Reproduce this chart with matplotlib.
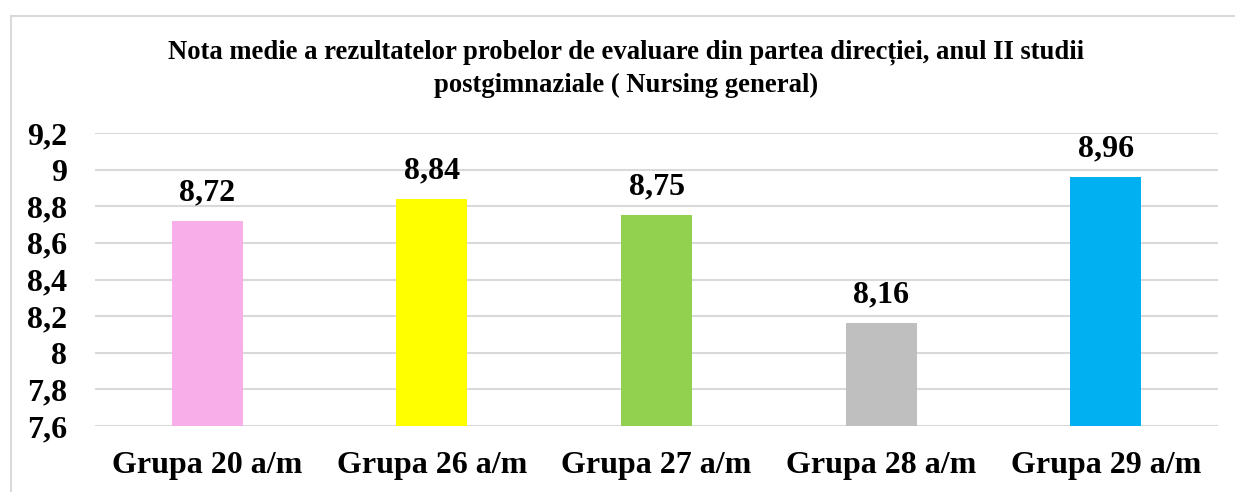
import matplotlib
matplotlib.use("Agg")
import matplotlib.pyplot as plt
from matplotlib.patches import Rectangle

grupe = ["Grupa 20 a/m", "Grupa 26 a/m", "Grupa 27 a/m", "Grupa 28 a/m", "Grupa 29 a/m"]
note = [8.72, 8.84, 8.75, 8.16, 8.96]
culori = ["#F8AEE8", "#FFFF00", "#92D050", "#BFBFBF", "#00B0F0"]
y_ticks = [7.6, 7.8, 8.0, 8.2, 8.4, 8.6, 8.8, 9.0, 9.2]

plt.rcParams['font.family'] = ['Liberation Serif', 'DejaVu Serif']
plt.rcParams['font.weight'] = 'bold'


def fmt_ro(v):
    s = f"{v:.2f}".rstrip('0').rstrip('.')
    return s.replace('.', ',')


fig = plt.figure(figsize=(12.35, 4.92), dpi=100)
ax = fig.add_axes([95 / 1235, 1 - 426 / 492, (1218 - 95) / 1235, (426 - 133) / 492])

# chenarul graficului
fig.patches.append(Rectangle((11 / 1235, -0.05), 1.1, 1 - 16 / 492 + 0.05,
                             transform=fig.transFigure, fill=False,
                             edgecolor='#D9D9D9', linewidth=1.5))

x = range(len(grupe))
bare = ax.bar(x, note, width=0.316, color=culori, zorder=3)

for b, v in zip(bare, note):
    ax.annotate(fmt_ro(v), (b.get_x() + b.get_width() / 2, v),
                xytext=(0, 10), textcoords='offset points',
                ha='center', va='bottom', fontsize=23, fontweight='bold')

ax.set_ylim(7.6, 9.2)
ax.set_xlim(-0.5, len(grupe) - 0.5)
ax.set_yticks(y_ticks)
ax.set_yticklabels([fmt_ro(t) for t in y_ticks], fontsize=23, fontweight='bold')
ax.set_xticks(list(x))
ax.set_xticklabels(grupe, fontsize=23, fontweight='bold')
ax.tick_params(axis='y', length=0, pad=20)
ax.tick_params(axis='x', length=0, pad=18)

ax.grid(axis='y', color='#D9D9D9', linewidth=1.5, zorder=0)
for s in ax.spines.values():
    s.set_visible(False)

fig.text(0.5 + 9 / 1235, 1 - 69 / 492,
         "Nota medie a rezultatelor probelor de evaluare din partea direcției, anul II studii\npostgimnaziale ( Nursing general)",
         ha='center', va='center', fontsize=19.2, fontweight='bold', linespacing=1.42)

fig.savefig("out.png", dpi=100)
